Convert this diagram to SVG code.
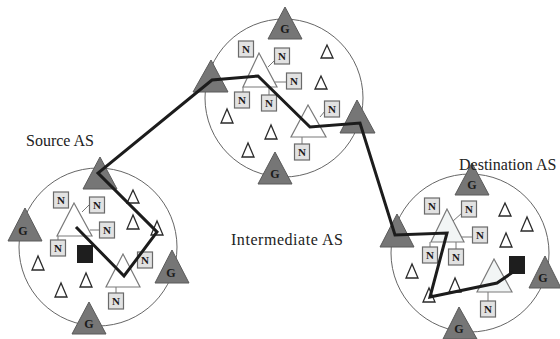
<svg xmlns="http://www.w3.org/2000/svg" width="560" height="339" viewBox="0 0 560 339">
<style>
.as{fill:none;stroke:#666;stroke-width:1}
.gw{fill:#767676;stroke:#5a5a5a;stroke-width:1}
.big{fill:#fff;stroke:#7a7a7a;stroke-width:1.2}
.sm{fill:#fff;stroke:#2a2a2a;stroke-width:1.3}
.nb{fill:#e2e2e2;stroke:#6a6a6a;stroke-width:1.2}
.ln{stroke:#777;stroke-width:1}
.sq{fill:#1e1e1e}
.g{font-family:"Liberation Serif",serif;font-weight:bold;font-size:12px;fill:#1a1a1a;text-anchor:middle}
.n{font-family:"Liberation Serif",serif;font-weight:bold;font-size:11px;fill:#1a1a1a;text-anchor:middle}
.lbl{font-family:"Liberation Serif",serif;font-size:16px;fill:#222}
.path{fill:none;stroke:#1c1c1c;stroke-width:3;stroke-linejoin:miter}
</style>
<rect width="560" height="339" fill="#fff"/>

<g id="source-as">
<circle class="as" cx="98" cy="247" r="79"/>
<g class="conn">
<line class="ln" x1="89" y1="205" x2="82" y2="212"/>
<line class="ln" x1="100" y1="230" x2="90" y2="230"/>
<line class="ln" x1="58" y1="240" x2="58" y2="236"/>
<line class="ln" x1="116" y1="293" x2="116" y2="287"/>
</g>
<polygon class="gw" points="100,157 83,189 117,189"/>
<polygon class="gw" points="25,208 8,241 42,241"/><text class="g" x="23" y="235">G</text>
<polygon class="gw" points="172,250 155,283 189,283"/><text class="g" x="171" y="277">G</text>
<polygon class="gw" points="89,302 72,334 106,334"/><text class="g" x="89" y="328">G</text>
<polygon class="big" points="74,203 57,236 92,236"/>
<polygon class="big" points="123,254 106,287 140,287"/>
<polygon class="sm" points="133,190 127,203 139,203"/>
<polygon class="sm" points="133,215 127,229 139,229"/>
<polygon class="sm" points="157,221 151,235 163,235"/>
<polygon class="sm" points="38,256 32,270 44,270"/>
<polygon class="sm" points="86,273 80,287 92,287"/>
<polygon class="sm" points="61,283 55,297 67,297"/>
<rect class="nb" x="53.5" y="192" width="15" height="16"/><text class="n" x="61" y="204">N</text>
<rect class="nb" x="89.5" y="197" width="15" height="16"/><text class="n" x="97" y="209">N</text>
<rect class="nb" x="99.5" y="222" width="15" height="16"/><text class="n" x="107" y="234">N</text>
<rect class="nb" x="50.5" y="240" width="15" height="16"/><text class="n" x="58" y="252">N</text>
<rect class="nb" x="137.5" y="252" width="15" height="16"/><text class="n" x="145" y="264">N</text>
<rect class="nb" x="108.5" y="293" width="15" height="16"/><text class="n" x="116" y="305">N</text>
<rect class="sq" x="77" y="245" width="16" height="18"/>
<text class="lbl" x="26" y="146">Source AS</text>
</g>

<g id="intermediate-as">
<circle class="as" cx="284" cy="98" r="79"/>
<g class="conn">
<line class="ln" x1="275" y1="60" x2="268" y2="67"/>
<line class="ln" x1="287" y1="82" x2="275" y2="82"/>
<line class="ln" x1="243" y1="92" x2="243" y2="87"/>
<line class="ln" x1="269" y1="95" x2="269" y2="87"/>
<line class="ln" x1="325" y1="111" x2="320" y2="117"/>
<line class="ln" x1="302" y1="144" x2="302" y2="137"/>
</g>
<polygon class="gw" points="285,7 268,39 302,39"/><text class="g" x="285" y="33">G</text>
<polygon class="gw" points="211,60 193,92 228,92"/>
<polygon class="gw" points="357,100 340,133 375,133"/>
<polygon class="gw" points="275,152 258,184 292,184"/><text class="g" x="275" y="178">G</text>
<polygon class="big" points="259,53 243,87 277,87"/>
<polygon class="big" points="308,105 291,137 326,137"/>
<polygon class="sm" points="327,45 321,58 333,58"/>
<polygon class="sm" points="321,76 315,89 327,89"/>
<polygon class="sm" points="227,109 221,123 233,123"/>
<polygon class="sm" points="271,125 265,139 277,139"/>
<polygon class="sm" points="248,143 242,157 254,157"/>
<rect class="nb" x="238.5" y="41" width="15" height="16"/><text class="n" x="246" y="53">N</text>
<rect class="nb" x="274.5" y="48" width="15" height="16"/><text class="n" x="282" y="60">N</text>
<rect class="nb" x="286.5" y="73" width="15" height="16"/><text class="n" x="294" y="85">N</text>
<rect class="nb" x="234.5" y="92" width="15" height="16"/><text class="n" x="242" y="104">N</text>
<rect class="nb" x="261.5" y="95" width="15" height="16"/><text class="n" x="269" y="107">N</text>
<rect class="nb" x="324.5" y="101" width="15" height="16"/><text class="n" x="332" y="113">N</text>
<rect class="nb" x="294.5" y="144" width="15" height="16"/><text class="n" x="302" y="156">N</text>
<text class="lbl" x="231" y="245" textLength="112">Intermediate AS</text>
</g>

<g id="destination-as">
<circle class="as" cx="470" cy="253" r="79"/>
<g class="conn">
<line class="ln" x1="462" y1="213" x2="453" y2="221"/>
<line class="ln" x1="472" y1="237" x2="460" y2="237"/>
<line class="ln" x1="430" y1="247" x2="430" y2="242"/>
<line class="ln" x1="456" y1="249" x2="456" y2="242"/>
<line class="ln" x1="488" y1="301" x2="488" y2="292"/>
</g>
<polygon class="gw" points="472,163 455,195 489,195"/><text class="g" x="472" y="189">G</text>
<polygon class="gw" points="397,214 380,247 414,247"/>
<polygon class="gw" points="545,256 529,288 561,288"/><text class="g" x="543" y="282">G</text>
<polygon class="gw" points="459,307 443,339 477,339"/><text class="g" x="459" y="333">G</text>
<polygon class="big" points="447,209 431,242 464,242" style="fill:#f2f5f5"/>
<polygon class="big" points="494,259 477,292 512,292" style="fill:#f2f5f5"/>
<polygon class="sm" points="505,203 499,216 511,216"/>
<polygon class="sm" points="527,217 521,231 533,231"/>
<polygon class="sm" points="506,233 500,247 512,247"/>
<polygon class="sm" points="412,264 406,278 418,278"/>
<polygon class="sm" points="455,278 449,292 461,292"/>
<polygon class="sm" points="429,288 423,302 435,302"/>
<rect class="nb" x="424.5" y="198" width="15" height="16"/><text class="n" x="432" y="210">N</text>
<rect class="nb" x="461.5" y="201" width="15" height="16"/><text class="n" x="469" y="213">N</text>
<rect class="nb" x="472.5" y="227" width="15" height="16"/><text class="n" x="480" y="239">N</text>
<rect class="nb" x="422.5" y="247" width="15" height="16"/><text class="n" x="430" y="259">N</text>
<rect class="nb" x="448.5" y="249" width="15" height="16"/><text class="n" x="456" y="261">N</text>
<rect class="nb" x="480.5" y="301" width="15" height="16"/><text class="n" x="488" y="313">N</text>
<rect class="sq" x="509" y="256" width="16" height="18"/>
<text class="lbl" x="459" y="170">Destination AS</text>
</g>

<g id="connectors">
<polyline class="path" points="76,227 124,276 157,232 98,173 212,80 258,76 310,127 360,123 395,235 447,233 430,297 497,283 513,272"/>
</g>
</svg>
